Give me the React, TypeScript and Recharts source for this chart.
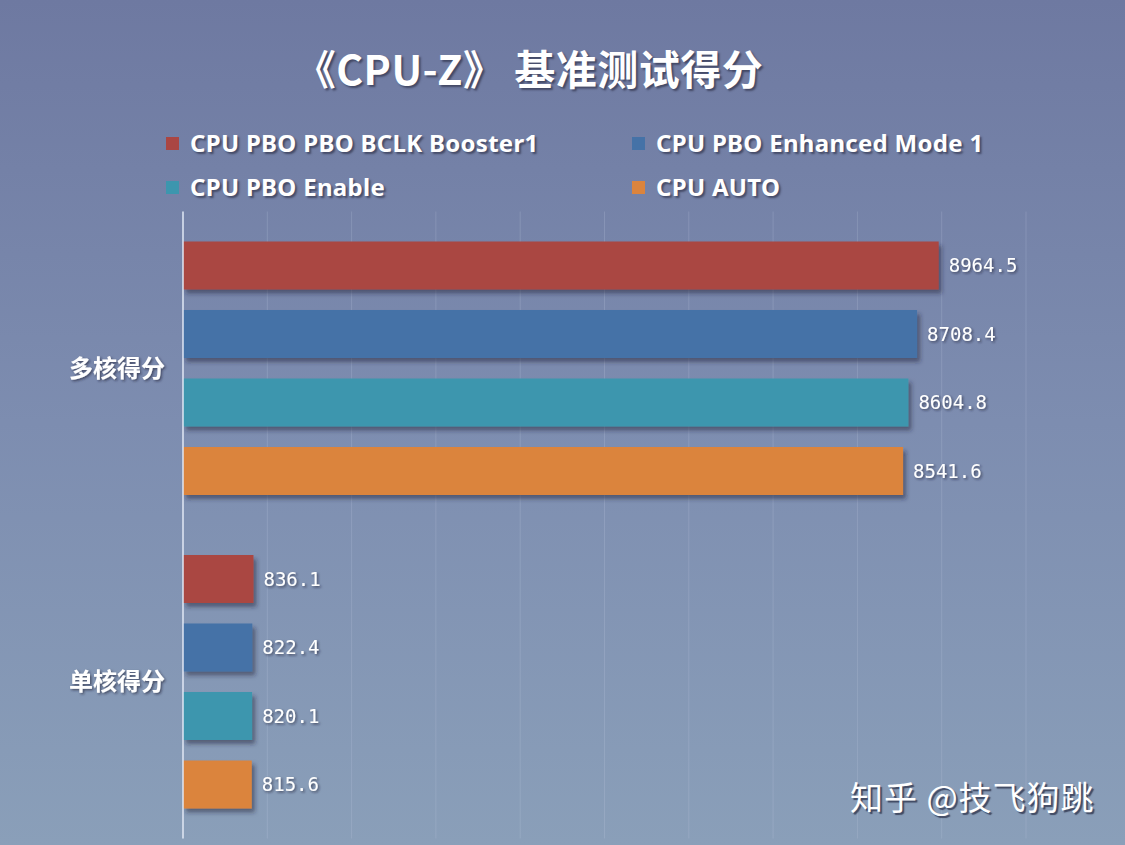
import React from 'react'
import { BarChart, Bar, XAxis, YAxis, CartesianGrid, LabelList } from 'recharts'

const categories = ['多核得分', '单核得分']
const seriesNames = [
  'CPU PBO PBO BCLK Booster1',
  'CPU PBO Enhanced Mode 1',
  'CPU PBO Enable',
  'CPU AUTO'
]
const seriesColors = ['#AA4643', '#4572A7', '#3D96AE', '#DB843D']
const boosterValues = [8964.5, 836.1]
const enhancedValues = [8708.4, 822.4]
const enableValues = [8604.8, 820.1]
const autoValues = [8541.6, 815.6]
const xTicks = [0, 1000, 2000, 3000, 4000, 5000, 6000, 7000, 8000, 9000, 10000]

const seriesValues = [boosterValues, enhancedValues, enableValues, autoValues]
const keys = ['s0', 's1', 's2', 's3']

const chartData = categories.map((name, i) => {
  const row: any = { name }
  keys.forEach((k, j) => { row[k] = seriesValues[j][i] })
  return row
})

const cjk = '"Noto Sans", "Noto Sans CJK SC", sans-serif'
const shadow = '2px 2px 2px rgba(30,30,50,0.55)'

// bar with a soft drop shadow, position comes from recharts
const ShadowBar = (p: any) => (
  <rect x={p.x} y={p.y} width={p.width} height={p.height} fill={p.fill} filter="url(#barShadow)" />
)

const NoTick = () => <g />

export default function App() {
  return (
    <div
      style={{
        position: 'absolute',
        left: 0,
        top: 0,
        width: 1125,
        height: 845,
        overflow: 'hidden',
        background: 'linear-gradient(to bottom, #6e79a1 0%, #7d8db0 50%, #8a9fb9 100%)',
        fontFamily: cjk
      }}
    >
      {/* title */}
      <div
        style={{
          position: 'absolute',
          top: 39,
          left: 0,
          width: 1058,
          textAlign: 'center',
          color: '#fff',
          fontSize: 41,
          fontWeight: 700,
          fontFamily: '"Noto Sans CJK SC", sans-serif',
          textShadow: shadow,
          lineHeight: '56px',
          letterSpacing: 0.5
        }}
      >
        《CPU-Z》 基准测试得分
      </div>

      {/* legend */}
      {seriesNames.map((n, i) => (
        <div
          key={n}
          style={{
            position: 'absolute',
            left: i % 2 === 0 ? 166 : 632,
            top: i < 2 ? 127 : 171,
            display: 'flex',
            alignItems: 'center',
            color: '#fff',
            fontSize: 24,
            fontWeight: 700,
            textShadow: shadow,
            lineHeight: '32px',
            whiteSpace: 'nowrap',
            letterSpacing: 0.3
          }}
        >
          <span style={{ width: 13, height: 13, background: seriesColors[i], marginRight: 11, display: 'inline-block' }} />
          {n}
        </div>
      ))}

      <div style={{ position: 'absolute', left: 0, top: 0 }}>
        <BarChart
          width={1125}
          height={845}
          data={chartData}
          layout="vertical"
          margin={{ top: 211.5, right: 99, bottom: 5.5, left: 0 }}
          barSize={48}
          barGap={20.5}
        >
          <defs>
            <filter id="barShadow" x="-5%" y="-20%" width="115%" height="150%">
              <feDropShadow dx="3" dy="4" stdDeviation="2" floodColor="#1e2236" floodOpacity="0.5" />
            </filter>
            <filter id="txtShadow" x="-10%" y="-30%" width="130%" height="170%">
              <feDropShadow dx="1.5" dy="1.5" stdDeviation="1" floodColor="#1e2236" floodOpacity="0.6" />
            </filter>
          </defs>
          <CartesianGrid horizontal={false} vertical stroke="#c4cee2" strokeOpacity={0.22} />
          <XAxis
            type="number"
            domain={[0, 10000]}
            ticks={xTicks}
            interval={0}
            tick={NoTick}
            axisLine={false}
            tickLine={false}
            height={1}
          />
          <YAxis
            type="category"
            dataKey="name"
            width={183}
            tickLine={false}
            tickSize={6}
            tickMargin={12}
            axisLine={{ stroke: '#dfe6f3', strokeWidth: 1.5 }}
            tick={{ fill: '#ffffff', fontSize: 24, fontWeight: 700, fontFamily: '"Noto Sans CJK SC", sans-serif', filter: 'url(#txtShadow)' }}
          />
          {keys.map((k, i) => (
            <Bar
              key={k}
              dataKey={k}
              name={seriesNames[i]}
              fill={seriesColors[i]}
              shape={ShadowBar}
              isAnimationActive={false}
            >
              <LabelList
                dataKey={k}
                position="right"
                offset={10}
                fill="#ffffff"
                fontSize={19}
                fontFamily='"DejaVu Sans Mono", monospace'
                filter="url(#txtShadow)"
              />
            </Bar>
          ))}
        </BarChart>
      </div>

      {/* watermark */}
      <div
        style={{
          position: 'absolute',
          left: 850,
          top: 772,
          color: '#fff',
          fontSize: 33,
          letterSpacing: 1,
          fontFamily: '"Noto Sans CJK SC", sans-serif',
          textShadow: '2px 2px 1px rgba(40,45,70,0.75)',
          whiteSpace: 'nowrap'
        }}
      >
        知乎 @技飞狗跳
      </div>
    </div>
  )
}
